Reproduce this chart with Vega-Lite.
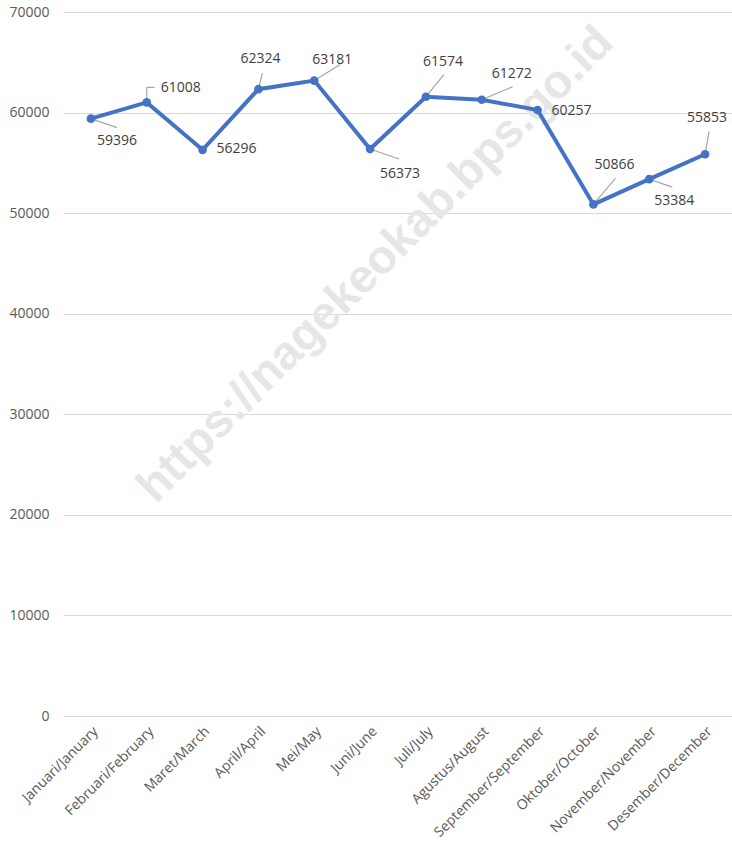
{
  "$schema": "https://vega.github.io/schema/vega-lite/v6.json",
  "width": 670,
  "height": 704,
  "padding": {"left": 63, "top": 12, "right": 0, "bottom": 129},
  "autosize": {"type": "none"},
  "config": {
    "view": {"stroke": null},
    "font": "Open Sans",
    "text": {"fontSize": 14, "color": "#404040", "baseline": "middle"},
    "rule": {"color": "#a6a6a6", "strokeWidth": 1.2}
  },
  "datasets": {
    "main": [
      {"month": "Januari/January", "value": 59396},
      {"month": "Februari/February", "value": 61008},
      {"month": "Maret/March", "value": 56296},
      {"month": "April/April", "value": 62324},
      {"month": "Mei/May", "value": 63181},
      {"month": "Juni/June", "value": 56373},
      {"month": "Juli/July", "value": 61574},
      {"month": "Agustus/August", "value": 61272},
      {"month": "September/September", "value": 60257},
      {"month": "Oktober/October", "value": 50866},
      {"month": "November/November", "value": 53384},
      {"month": "Desember/December", "value": 55853}
    ],
    "wm": [
      {"month": "Juni/June", "value": 44300, "label": "https://nagekeokab.bps.go.id"}
    ]
  },
  "data": {"name": "main"},
  "encoding": {
    "x": {
      "field": "month", "type": "nominal",
      "sort": ["Januari/January", "Februari/February", "Maret/March", "April/April", "Mei/May", "Juni/June", "Juli/July", "Agustus/August", "September/September", "Oktober/October", "November/November", "Desember/December"],
      "scale": {"type": "band", "paddingInner": 0, "paddingOuter": 0},
      "axis": {
        "title": null, "labelAngle": -45, "domain": false, "ticks": false,
        "labelFontSize": 14, "labelColor": "#595959", "labelPadding": 8,
        "labelFont": "Open Sans"
      }
    },
    "y": {
      "field": "value", "type": "quantitative",
      "scale": {"domain": [0, 70000], "nice": false},
      "axis": {
        "title": null, "values": [0, 10000, 20000, 30000, 40000, 50000, 60000, 70000],
        "format": "d", "domain": false, "ticks": false,
        "labelFontSize": 14, "labelColor": "#595959", "labelPadding": 14,
        "gridColor": "#d9d9d9", "gridWidth": 1
      }
    }
  },
  "layer": [
    {
      "data": {"name": "wm"},
      "mark": {"type": "text", "angle": -45, "fontSize": 47, "fontWeight": "bold", "color": "#e6e6e6", "dx": 8, "font": "Liberation Sans", "baseline": "middle"},
      "encoding": {"text": {"field": "label"}}
    },
    {"transform": [{"filter": "datum.month === 'Januari/January'"}], "mark": {"type": "rule", "x2Offset": 26, "y2Offset": 9}, "encoding": {"x2": {"field": "month"}, "y2": {"field": "value"}}},
    {"transform": [{"filter": "datum.month === 'Februari/February'"}], "mark": {"type": "rule", "y2Offset": -15}, "encoding": {"x2": {"field": "month"}, "y2": {"field": "value"}}},
    {"transform": [{"filter": "datum.month === 'Februari/February'"}], "mark": {"type": "rule", "yOffset": -15, "y2Offset": -15, "x2Offset": 8}, "encoding": {"x2": {"field": "month"}, "y2": {"field": "value"}}},
    {"transform": [{"filter": "datum.month === 'April/April'"}], "mark": {"type": "rule", "x2Offset": 4, "y2Offset": -16}, "encoding": {"x2": {"field": "month"}, "y2": {"field": "value"}}},
    {"transform": [{"filter": "datum.month === 'Mei/May'"}], "mark": {"type": "rule", "x2Offset": 26, "y2Offset": -16}, "encoding": {"x2": {"field": "month"}, "y2": {"field": "value"}}},
    {"transform": [{"filter": "datum.month === 'Juni/June'"}], "mark": {"type": "rule", "x2Offset": 29, "y2Offset": 10}, "encoding": {"x2": {"field": "month"}, "y2": {"field": "value"}}},
    {"transform": [{"filter": "datum.month === 'Juli/July'"}], "mark": {"type": "rule", "x2Offset": 18, "y2Offset": -22}, "encoding": {"x2": {"field": "month"}, "y2": {"field": "value"}}},
    {"transform": [{"filter": "datum.month === 'Agustus/August'"}], "mark": {"type": "rule", "x2Offset": 31, "y2Offset": -13}, "encoding": {"x2": {"field": "month"}, "y2": {"field": "value"}}},
    {"transform": [{"filter": "datum.month === 'Oktober/October'"}], "mark": {"type": "rule", "x2Offset": 22, "y2Offset": -26}, "encoding": {"x2": {"field": "month"}, "y2": {"field": "value"}}},
    {"transform": [{"filter": "datum.month === 'November/November'"}], "mark": {"type": "rule", "x2Offset": 23, "y2Offset": 8}, "encoding": {"x2": {"field": "month"}, "y2": {"field": "value"}}},
    {"transform": [{"filter": "datum.month === 'Desember/December'"}], "mark": {"type": "rule", "x2Offset": 4, "y2Offset": -23}, "encoding": {"x2": {"field": "month"}, "y2": {"field": "value"}}},
    {
      "mark": {"type": "line", "color": "#4472C4", "strokeWidth": 4}
    },
    {
      "mark": {"type": "point", "filled": true, "color": "#4472C4", "size": 75, "opacity": 1}
    },
    {"transform": [{"filter": "datum.month === 'Januari/January'"}], "mark": {"type": "text", "dx": 26, "dy": 22}, "encoding": {"text": {"field": "value", "format": "d"}}},
    {"transform": [{"filter": "datum.month === 'Februari/February'"}], "mark": {"type": "text", "dx": 34, "dy": -14}, "encoding": {"text": {"field": "value", "format": "d"}}},
    {"transform": [{"filter": "datum.month === 'Maret/March'"}], "mark": {"type": "text", "dx": 34, "dy": -1}, "encoding": {"text": {"field": "value", "format": "d"}}},
    {"transform": [{"filter": "datum.month === 'April/April'"}], "mark": {"type": "text", "dx": 2, "dy": -30}, "encoding": {"text": {"field": "value", "format": "d"}}},
    {"transform": [{"filter": "datum.month === 'Mei/May'"}], "mark": {"type": "text", "dx": 18, "dy": -21}, "encoding": {"text": {"field": "value", "format": "d"}}},
    {"transform": [{"filter": "datum.month === 'Juni/June'"}], "mark": {"type": "text", "dx": 30, "dy": 25}, "encoding": {"text": {"field": "value", "format": "d"}}},
    {"transform": [{"filter": "datum.month === 'Juli/July'"}], "mark": {"type": "text", "dx": 17, "dy": -35}, "encoding": {"text": {"field": "value", "format": "d"}}},
    {"transform": [{"filter": "datum.month === 'Agustus/August'"}], "mark": {"type": "text", "dx": 30, "dy": -26}, "encoding": {"text": {"field": "value", "format": "d"}}},
    {"transform": [{"filter": "datum.month === 'September/September'"}], "mark": {"type": "text", "dx": 34, "dy": 1}, "encoding": {"text": {"field": "value", "format": "d"}}},
    {"transform": [{"filter": "datum.month === 'Oktober/October'"}], "mark": {"type": "text", "dx": 21, "dy": -39}, "encoding": {"text": {"field": "value", "format": "d"}}},
    {"transform": [{"filter": "datum.month === 'November/November'"}], "mark": {"type": "text", "dx": 25, "dy": 22}, "encoding": {"text": {"field": "value", "format": "d"}}},
    {"transform": [{"filter": "datum.month === 'Desember/December'"}], "mark": {"type": "text", "dx": 2, "dy": -36}, "encoding": {"text": {"field": "value", "format": "d"}}}
  ]
}
